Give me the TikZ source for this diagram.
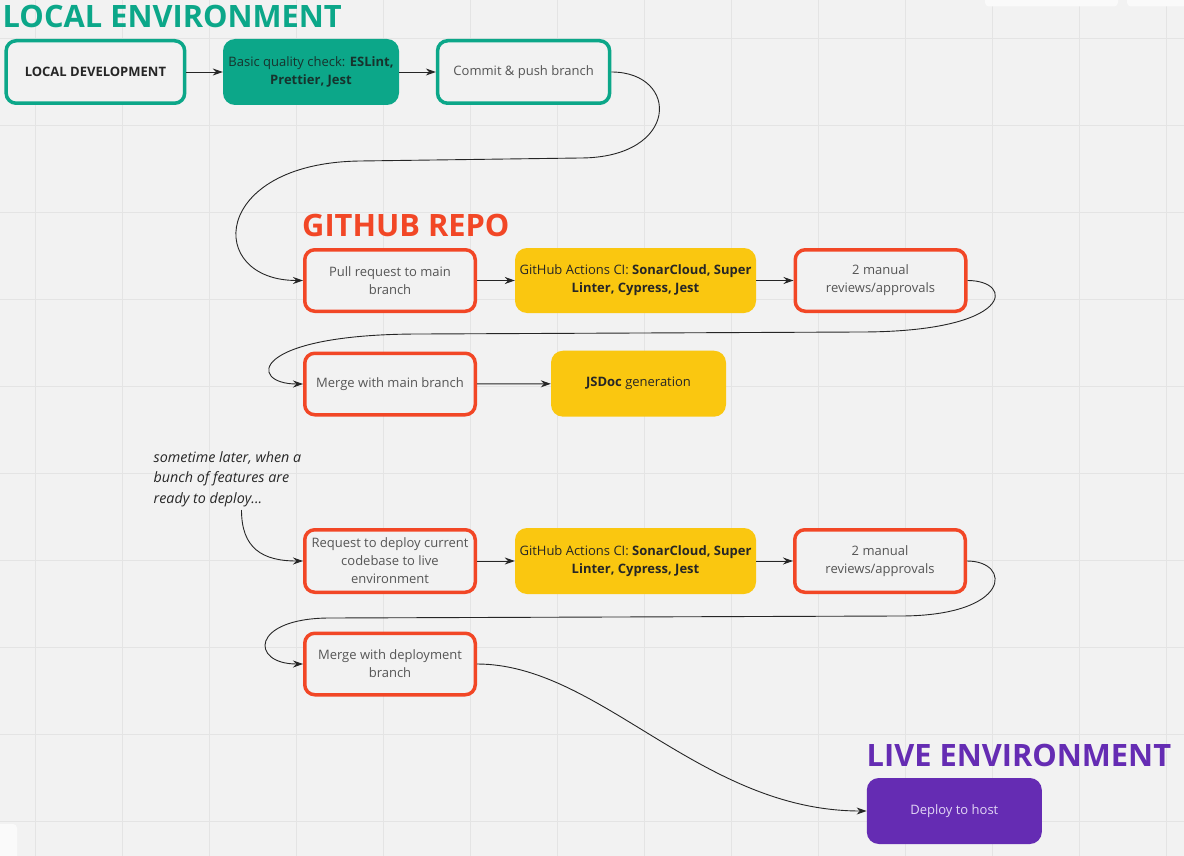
\documentclass[tikz,border=0pt]{standalone}
\usepackage{fontspec}
\setmainfont{Open Sans}
\usetikzlibrary{arrows.meta}

\definecolor{miroteal}{HTML}{0CA789}
\definecolor{mirored}{HTML}{F24726}
\definecolor{miroyellow}{HTML}{FAC710}
\definecolor{miroviolet}{HTML}{652CB3}
\definecolor{boardbg}{HTML}{F2F2F2}
\definecolor{gridline}{HTML}{E4E4E4}
\definecolor{boxtext}{HTML}{555555}
\definecolor{darktext}{HTML}{262626}

\begin{document}
\begin{tikzpicture}[x=1pt, y=-1pt,
    title/.style={anchor=base west, inner sep=0pt, font=\fontsize{30.8}{36}\selectfont\bfseries},
    outbox/.style={draw=#1, line width=3.5pt, fill=boardbg, rounded corners=10pt, minimum width=170.5pt, minimum height=61.5pt, align=center, text=boxtext, font=\fontsize{13}{18}\selectfont},
    fillbox/.style={fill=#1, rounded corners=12pt, minimum width=176pt, minimum height=66pt, align=center, text=darktext, font=\fontsize{13}{18}\selectfont},
    conn/.style={draw=darktext, line width=0.9pt, -{Stealth[length=10pt,width=7pt]}}]

    \useasboundingbox [fill=boardbg] (0,0) rectangle (1184,856);
    \foreach \x in {0,...,13}{
        \draw [gridline, line width=1.2pt] (35.5+87*\x, 0) -- (35.5+87*\x, 856);
    }
    \foreach \y in {0,...,9}{
        \draw [gridline, line width=1.2pt] (0, 38.3+87*\y) -- (1184, 38.3+87*\y);
    }
    % toolbar leftovers
    \fill [white!60!boardbg, rounded corners=4pt] (985,-8) rectangle (1118,6.5);
    \fill [white!60!boardbg, rounded corners=4pt] (1127,-8) rectangle (1192,6.5);
    \fill [white!60!boardbg, rounded corners=4pt] (-8,824) rectangle (17,864);

    % local environment
    \node [title, text=miroteal] (localtitle) at (2.5, 27.3) {LOCAL ENVIRONMENT};
    \node [outbox=miroteal, minimum width=178.5pt, minimum height=62.5pt, text=darktext, font=\fontsize{13}{16}\selectfont\bfseries] (localdev) at (95.4, 72) {LOCAL DEVELOPMENT};
    \node [fillbox=miroteal, text={rgb,255:red,23;green,51;blue,45}] (quality) at (311, 72) {Basic quality check: \textbf{ESLint,}\\ \textbf{Prettier, Jest}};
    \node [outbox=miroteal, minimum width=172pt, minimum height=62.5pt] (commit) at (523.6, 72) {Commit \& push branch};

    \draw [conn] (localdev) -- (quality);
    \draw [conn] (quality) -- (commit);

    % github repo
    \node [title, text=mirored] (repotitle) at (302, 236) {GITHUB REPO};
    \node [outbox=mirored] (pullreq) at (390, 280.5) {Pull request to main\\ branch};
    \node [fillbox=miroyellow, minimum width=241pt, minimum height=65pt] (ci) at (635.5, 280.5) {GitHub Actions CI: \textbf{SonarCloud, Super}\\ \textbf{Linter, Cypress, Jest}};
    \node [outbox=mirored] (reviews) at (880.5, 280.5) {2 manual\\ reviews/approvals};
    \node [outbox=mirored] (mergemain) at (390, 384) {Merge with main branch};
    \node [fillbox=miroyellow, minimum width=175pt] (jsdoc) at (638.5, 383.7) {\textbf{JSDoc} generation};

    \coordinate (bendA) at (580, 158);
    \coordinate (bendB) at (360, 161);
    \draw [conn] (commit.east) .. controls (680, 72) and (680, 158) .. (bendA) -- (bendB) .. controls (210, 163) and (205, 280.5) .. (pullreq.west);
    \draw [conn] (pullreq) -- (ci);
    \draw [conn] (ci) -- (reviews);

    \coordinate (bendC) at (860, 332);
    \coordinate (bendD) at (420, 334);
    \draw [conn] (reviews.east) .. controls (1015, 280.5) and (1015, 332) .. (bendC) -- (bendD) .. controls (248, 334) and (248, 384) .. (mergemain.west);
    \draw [conn] (mergemain) -- (jsdoc);

    % later on
    \node [anchor=north west, inner sep=0pt, align=left, text=darktext, font=\fontsize{14.3}{20.5}\selectfont\itshape] (note) at (153.5, 451) {sometime later, when a\\ bunch of features are\\ ready to deploy...};
    \node [outbox=mirored, minimum height=62.5pt] (deployreq) at (390, 561) {Request to deploy current\\ codebase to live\\ environment};
    \node [fillbox=miroyellow, minimum width=241pt] (ci2) at (635.5, 561) {GitHub Actions CI: \textbf{SonarCloud, Super}\\ \textbf{Linter, Cypress, Jest}};
    \node [outbox=mirored, minimum height=62.5pt] (reviews2) at (880, 561) {2 manual\\ reviews/approvals};
    \node [outbox=mirored] (mergedeploy) at (390, 664) {Merge with deployment\\ branch};

    \coordinate (notetail) at (241.5, 510);
    \draw [conn] (notetail) .. controls (241.5, 548) and (262, 561) .. (deployreq.west);
    \draw [conn] (deployreq) -- (ci2);
    \draw [conn] (ci2) -- (reviews2);

    \coordinate (bendE) at (900, 616);
    \coordinate (bendF) at (330, 618);
    \draw [conn] (reviews2.east) .. controls (1012, 561) and (1012, 616) .. (bendE) -- (bendF) .. controls (250, 618) and (250, 664) .. (mergedeploy.west);

    % live environment
    \node [title, text=miroviolet] (livetitle) at (866.5, 766.5) {LIVE ENVIRONMENT};
    \node [fillbox=miroviolet, minimum width=175pt, text={rgb,255:red,226;green,214;blue,245}] (host) at (954.3, 811) {Deploy to host};

    \draw [conn] (mergedeploy.east) .. controls (600, 664) and (700, 811) .. (host.west);

\end{tikzpicture}
\end{document}
